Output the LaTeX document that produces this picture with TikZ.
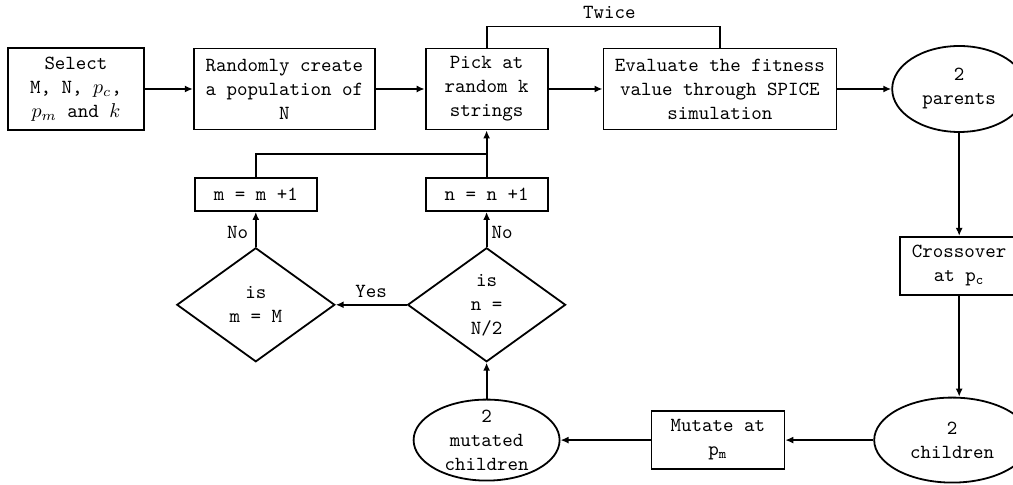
\documentclass[tikz,border=0pt]{standalone}
\usetikzlibrary{positioning,shapes.geometric,arrows.meta,calc}
\begin{document}
\begin{tikzpicture}[
    font=\ttfamily,
    block/.style={rectangle, draw, line width=0.9pt, align=center},
    oval/.style={ellipse, draw, line width=0.9pt, align=center, inner sep=1pt},
    decision/.style={diamond, draw, line width=0.9pt, align=center, aspect=1.4, minimum width=79pt, minimum height=57pt},
    arrow/.style={-{Latex[length=4pt,width=3.5pt]}, line width=0.9pt},
    line/.style={line width=0.9pt}
]
\useasboundingbox (-38pt,44.5pt) rectangle (468.5pt,-198pt);

% Top row
\node[block, minimum width=68pt, minimum height=41pt] (select) {Select\\M, N, $p_c$,\\$p_m$ and $k$};
\node[block, minimum width=90.5pt, minimum height=40.5pt, right=24pt of select] (population) {Randomly create\\a population of\\N};
\node[block, minimum width=61pt, minimum height=40.5pt, right=24.5pt of population] (pick) {Pick at\\random k\\strings};
\node[block, minimum width=116.5pt, minimum height=40.5pt, right=27pt of pick] (evaluate) {Evaluate the fitness\\value through SPICE\\simulation};
\node[oval, minimum width=67pt, minimum height=43pt, right=27pt of evaluate] (parents) {2\\parents};

% Right column
\node[block, minimum width=59pt, minimum height=29pt, below=51.5pt of parents] (cross) {Crossover\\at p\textsubscript{c}};
\node[oval, minimum width=78pt, minimum height=42.5pt, below=50.5pt of cross, xshift=-3.5pt] (children) {2\\children};

% Bottom row
\node[block, minimum width=66.5pt, minimum height=29pt, left=44pt of children] (mutate) {Mutate at\\p\textsubscript{m}};
\node[oval, inner ysep=-2pt, minimum width=73pt, minimum height=40.5pt, left=45pt of mutate] (mutated) {2\\mutated\\children};

% Decisions
\node[decision, above=18pt of mutated] (isn) {is\\n =\\N/2};
\node[decision, left=35.5pt of isn] (ism) {is\\m = M};

% Counters
\node[block, minimum width=61pt, minimum height=16.5pt, above=17.5pt of isn] (nbox) {n = n +1};
\node[block, minimum width=61pt, minimum height=16.5pt, above=17.5pt of ism] (mbox) {m = m +1};
\coordinate (join) at ($(nbox.north)!0.5!(pick.south)$);

% Arrows
\draw[arrow] (select) -- (population);
\draw[arrow] (population) -- (pick);
\draw[arrow] (pick) -- (evaluate);
\draw[arrow] (evaluate) -- (parents);
\draw[arrow] (parents) -- (cross);
\draw[arrow] (cross.south) -- (cross.south |- children.north);
\draw[arrow] (children) -- (mutate);
\draw[arrow] (mutate) -- (mutated);
\draw[arrow] (mutated) -- (isn);
\draw[arrow] (isn) -- node[above] (yes) {Yes} (ism);
\draw[arrow] (isn) -- node[pos=0.4, right, inner sep=2pt] (non) {No} (nbox);
\draw[arrow] (ism) -- node[pos=0.4, left] (nom) {No} (mbox);
\draw[arrow] (nbox) -- (pick);
\draw[line] (mbox.north) |- (join);

% Loop
\draw[line] (pick.north) -- ++(0,10.5pt) -| node[pos=0.25, above, xshift=3pt] (twice) {Twice} (evaluate.north);

\end{tikzpicture}
\end{document}
